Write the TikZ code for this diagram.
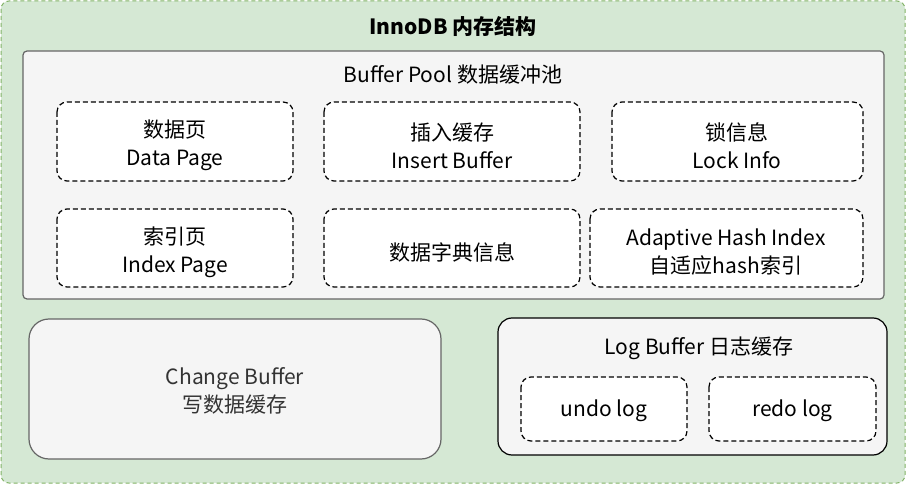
\documentclass[tikz,border=0pt]{standalone}
\usepackage{fontspec}
\setmainfont{Noto Sans CJK SC}
\usepackage{tikz}

\definecolor{outerfill}{HTML}{D5E8D4}
\definecolor{outerline}{HTML}{82B366}
\definecolor{poolfill}{HTML}{F5F5F5}
\definecolor{poolline}{HTML}{666666}
\definecolor{textgray}{HTML}{333333}

\tikzset{
    innobox/.style={draw=outerline, fill=outerfill, dashed, dash pattern=on 4pt off 3pt,
        rounded corners=8pt, line width=1pt},
    poolbox/.style={draw=poolline, fill=poolfill, rounded corners=4pt, line width=1.2pt},
    cbbox/.style={draw=poolline, fill=poolfill, rounded corners=20pt, line width=1.2pt},
    logbox/.style={draw=black, fill=poolfill, rounded corners=14pt, line width=1.2pt},
    item/.style={draw=black, fill=white, dash pattern=on 5pt off 3pt, rounded corners=10pt,
        line width=1.2pt},
    txt/.style={align=center, font=\fontsize{21}{28}\selectfont},
}

\begin{document}
\begin{tikzpicture}[x=1pt,y=-1pt]

    \useasboundingbox (0,0) rectangle (906,484);

    \draw[innobox] (1,1) rectangle (905,483);
    \node[font=\fontsize{21}{24}\selectfont\bfseries] (title) at (453,26) {InnoDB 内存结构};

    % buffer pool
    \draw[poolbox] (23,51) rectangle (884,299);
    \node[txt] (pool) at (453,75) {Buffer Pool 数据缓冲池};

    \draw[item] (57,102)  rectangle (293,181);
    \draw[item] (324,102) rectangle (580,181);
    \draw[item] (612,102) rectangle (863,181);
    \draw[item] (57,209)  rectangle (293,287);
    \draw[item] (324,209) rectangle (580,287);
    \draw[item] (590,209) rectangle (863,287);

    \node[txt] (datapage) at (175,145.5) {数据页\\Data Page};
    \node[txt] (insertbuf) at (452,145.5) {插入缓存\\Insert Buffer};
    \node[txt] (lockinfo) at (737,145.5) {锁信息\\Lock Info};
    \node[txt] (indexpage) at (175,252) {索引页\\Index Page};
    \node[txt] (dict) at (452,252) {数据字典信息};
    \node[txt] (ahi) at (726,252) {Adaptive Hash Index\\自适应hash索引};

    % change buffer
    \draw[cbbox] (29,319) rectangle (441,459);
    \node[txt, text=textgray] (changebuf) at (235,391) {Change Buffer\\写数据缓存};

    % log buffer
    \draw[logbox] (498,318) rectangle (887,455);
    \node[txt] (logbuf) at (699,348) {Log Buffer 日志缓存};
    \draw[item] (521,377) rectangle (687,441);
    \draw[item] (709,377) rectangle (876,441);
    \node[txt] (undolog) at (604,411) {undo log};
    \node[txt] (redolog) at (792.5,411) {redo log};

\end{tikzpicture}
\end{document}
